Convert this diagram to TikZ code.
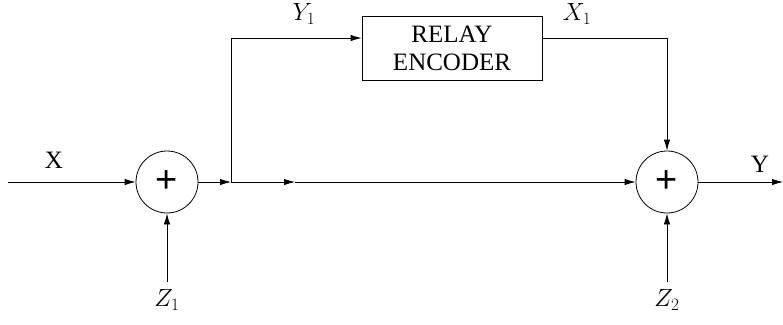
\documentclass[tikz,border=0pt]{standalone}
\usepackage{fontspec}
\setmainfont{Liberation Serif}
\newfontfamily\plusfont{Liberation Sans}
\usetikzlibrary{arrows.meta,calc}
\tikzset{
  sig/.style={line width=0.8pt,-{Latex[length=11pt,width=6.5pt]}},
  sumnode/.style={draw,circle,line width=0.8pt,minimum size=62pt,inner sep=0pt,font=\plusfont\fontsize{38}{40}\selectfont},
  block/.style={draw,line width=0.8pt,minimum width=180pt,minimum height=64pt,align=center,inner sep=0pt},
  lbl/.style={inner sep=0pt}
}
\begin{document}
\begin{tikzpicture}[x=1pt,y=-1pt,font=\fontsize{25}{28}\selectfont]
\useasboundingbox (0,0) rectangle (783,324);
\node[sumnode] (s1) at (167,182) {+};
\node[sumnode] (s2) at (667,182) {+};
\node[block] (enc) at (452,48.5) {RELAY\\ENCODER};
\coordinate (in) at (8,182);
\coordinate (jn) at (231,182);
\coordinate (mid) at (295,182);
\coordinate (up) at (231,38);
\coordinate (xr) at (667,38);
\coordinate (out) at (783,182);
\coordinate (z1) at (167,282);
\coordinate (z2) at (667,282);
\draw[sig] (in) -- (s1.west);
\draw[sig] (s1.east) -- (jn);
\draw[sig] (jn) -- (mid);
\draw[sig] (mid) -- (s2.west);
\draw[sig] (jn) -- (up) -- (up -| enc.west);
\draw[sig] (xr -| enc.east) -- (xr) -- (s2.north);
\draw[sig] (s2.east) -- (out);
\draw[sig] (z1) -- (s1.south);
\draw[sig] (z2) -- (s2.south);
\node[lbl] (lx) at (54,160) {X};
\node[lbl] (ly) at (760,164) {Y};
\node[lbl] (ly1) at (304,14) {$Y_1$};
\node[lbl] (lx1) at (577,14) {$X_1$};
\node[lbl] (lz1) at (167,300) {$Z_1$};
\node[lbl] (lz2) at (667,300) {$Z_2$};
\end{tikzpicture}
\end{document}
